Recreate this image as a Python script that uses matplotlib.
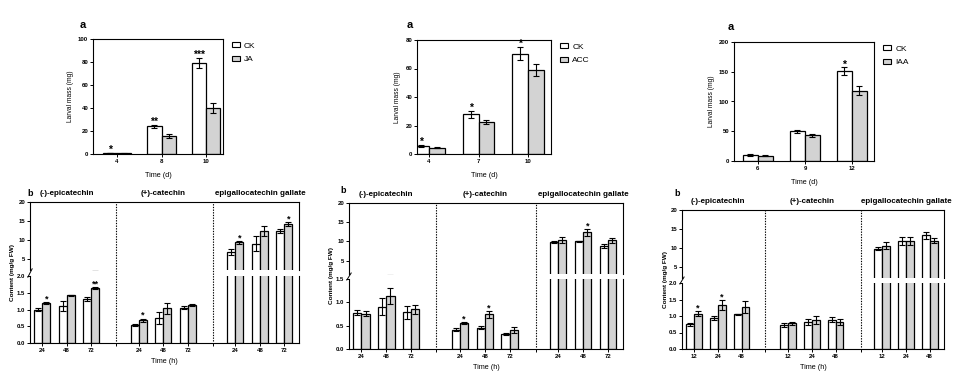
import matplotlib.pyplot as plt
import matplotlib.transforms as mtransforms
from matplotlib.patches import Patch

plt.rcParams['font.family'] = ['Liberation Sans', 'DejaVu Sans']
plt.rcParams['font.weight'] = 'bold'
plt.rcParams['axes.linewidth'] = 0.8

W, H = 960, 384

# ---- top row: larval mass (mg) ----
ja_days = ['4', '8', '10']
ja_ck = [0.8, 24, 79]
ja_ck_err = [0.3, 1.5, 4.5]
ja_trt = [0.5, 16, 40]
ja_trt_err = [0.2, 1.8, 4.5]
ja_stars = ['*', '**', '***']

acc_days = ['4', '7', '10']
acc_ck = [5.5, 28, 70.5]
acc_ck_err = [0.7, 2.5, 4.5]
acc_trt = [4.5, 22.5, 59]
acc_trt_err = [0.4, 1.5, 4.0]
acc_stars = ['*', '*', '*']

iaa_days = ['6', '9', '12']
iaa_ck = [10, 50, 151]
iaa_ck_err = [1.0, 2.5, 6.5]
iaa_trt = [9, 43, 118]
iaa_trt_err = [0.7, 3.0, 7.5]
iaa_stars = ['', '', '*']

# ---- bottom row: content (mg/g FW), 3 compounds x 3 times ----
compounds = ['(-)-epicatechin', '(+)-catechin', 'epigallocatechin gallate']

ja_hours = ['24', '48', '72']
ja_cont_ck = [1.0, 1.1, 1.3, 0.53, 0.75, 1.05, 6.7, 9.0, 12.3]
ja_cont_ck_err = [0.04, 0.15, 0.06, 0.03, 0.18, 0.04, 0.8, 2.0, 0.5]
ja_cont_trt = [1.2, 1.42, 1.64, 0.68, 1.03, 1.12, 9.3, 12.3, 14.1]
ja_cont_trt_err = [0.03, 0.02, 0.03, 0.05, 0.15, 0.03, 0.35, 1.3, 0.5]
ja_cont_stars = ['*', '', '**', '*', '', '', '*', '', '*']

acc_hours = ['24', '48', '72']
acc_cont_ck = [0.78, 0.91, 0.79, 0.41, 0.46, 0.32, 9.9, 10.0, 8.8]
acc_cont_ck_err = [0.05, 0.18, 0.14, 0.03, 0.04, 0.02, 0.2, 0.2, 0.6]
acc_cont_trt = [0.76, 1.14, 0.85, 0.55, 0.74, 0.41, 10.4, 12.4, 10.3]
acc_cont_trt_err = [0.05, 0.17, 0.09, 0.02, 0.08, 0.07, 0.8, 0.9, 0.7]
acc_cont_stars = ['', '', '', '*', '*', '', '', '*', '']

iaa_hours = ['12', '24', '48']
iaa_cont_ck = [0.75, 0.95, 1.05, 0.73, 0.82, 0.89, 9.8, 11.8, 13.3]
iaa_cont_ck_err = [0.05, 0.06, 0.02, 0.06, 0.08, 0.08, 0.5, 1.0, 0.9]
iaa_cont_trt = [1.07, 1.33, 1.27, 0.78, 0.88, 0.82, 10.5, 11.8, 11.9]
iaa_cont_trt_err = [0.07, 0.16, 0.17, 0.04, 0.12, 0.09, 0.9, 1.0, 0.6]
iaa_cont_stars = ['*', '*', '', '', '', '', '', '', '']

GRAY = '#d3d3d3'


def rect(l, t, r, b):
    return [l / W, 1 - b / H, (r - l) / W, (b - t) / H]


def tick_style(ax):
    ax.tick_params(axis='both', which='both', direction='out', length=2,
                   width=0.7, labelsize=4.3, pad=1.5)


fig = plt.figure(figsize=(9.6, 3.84), dpi=100)


def mass_panel(r, days, ck, ck_err, trt, trt_err, stars, label, ymax, ystep, xlim, lab_xy):
    ax = fig.add_axes(rect(*r))
    x = list(range(len(days)))
    w = 0.32
    xc = [i - w / 2 for i in x]
    xt = [i + w / 2 for i in x]
    ax.bar(xc, ck, w, color='white', edgecolor='k', lw=0.9)
    ax.bar(xt, trt, w, color=GRAY, edgecolor='k', lw=0.9)
    ax.errorbar(xc, ck, yerr=ck_err, fmt='none', ecolor='k', elinewidth=0.8, capsize=2.5, capthick=0.8)
    ax.errorbar(xt, trt, yerr=trt_err, fmt='none', ecolor='k', elinewidth=0.8, capsize=2.5, capthick=0.8)
    for xi, v, e, s in zip(xc, ck, ck_err, stars):
        if s:
            ax.annotate(s, (xi, v + e), xytext=(0, -1.5), textcoords='offset points',
                        ha='center', va='bottom', fontsize=7.5)
    ax.set_xlim(*xlim)
    ax.set_ylim(0, ymax)
    ax.set_yticks(range(0, ymax + 1, ystep))
    ax.set_xticks(x)
    ax.set_xticklabels(days)
    tick_style(ax)
    ax.set_xlabel('Time (d)', fontsize=5.2, labelpad=6)
    ax.set_ylabel('Larval mass (mg)', fontsize=4.8, labelpad=3)
    ax.legend(handles=[Patch(facecolor='white', edgecolor='k', lw=0.8),
                       Patch(facecolor=GRAY, edgecolor='k', lw=0.8)],
              labels=['CK', label], loc='upper left', bbox_to_anchor=(1.04, 1.0),
              frameon=False, handlelength=1.0, handleheight=0.55, handletextpad=0.5,
              labelspacing=0.7, borderaxespad=0.0, prop={'size': 6, 'weight': 'normal'})
    fig.text(lab_xy[0] / W, 1 - lab_xy[1] / H, 'a', fontsize=8, ha='left', va='center')


mass_panel((93, 39, 223, 154), ja_days, ja_ck, ja_ck_err, ja_trt, ja_trt_err, ja_stars,
           'JA', 100, 20, (-0.54, 2.38), (80, 25))
mass_panel((417, 40, 551, 154), acc_days, acc_ck, acc_ck_err, acc_trt, acc_trt_err, acc_stars,
           'ACC', 80, 20, (-0.24, 2.46), (407, 25))
mass_panel((734, 42, 874, 161), iaa_days, iaa_ck, iaa_ck_err, iaa_trt, iaa_trt_err, iaa_stars,
           'IAA', 200, 50, (-0.51, 2.47), (728, 27))


def content_panel(up, lo, hours, ck, ck_err, trt, trt_err, stars, brk, lo_ticks, lab_xy, ylab_x):
    ax_up = fig.add_axes(rect(*up))
    ax_lo = fig.add_axes(rect(*lo))
    xpos = [g * 3.95 + i + 0.5 for g in range(3) for i in range(3)]
    dividers = [3.5, 7.5]
    w = 0.33
    xc = [p - w / 2 for p in xpos]
    xt = [p + w / 2 for p in xpos]
    for ax in (ax_up, ax_lo):
        ax.bar(xc, ck, w, color='white', edgecolor='k', lw=0.9)
        ax.bar(xt, trt, w, color=GRAY, edgecolor='k', lw=0.9)
        ax.errorbar(xc, ck, yerr=ck_err, fmt='none', ecolor='k', elinewidth=0.8, capsize=2.2, capthick=0.8)
        ax.errorbar(xt, trt, yerr=trt_err, fmt='none', ecolor='k', elinewidth=0.8, capsize=2.2, capthick=0.8)
        ax.set_xlim(0, 11)
        tick_style(ax)
    ax_up.set_ylim(brk, 20)
    ax_lo.set_ylim(0, lo_ticks[-1])
    ax_up.set_yticks([5, 10, 15, 20])
    ax_lo.set_yticks(lo_ticks)
    ax_lo.set_yticklabels(['%.1f' % t for t in lo_ticks])
    ax_up.spines['bottom'].set_visible(False)
    ax_up.set_xticks([])
    ax_lo.spines['top'].set_visible(False)
    ax_lo.set_xticks(xpos)
    ax_lo.set_xticklabels(hours * 3)
    ax_lo.set_xticks(dividers, minor=True)
    ax_lo.set_xlabel('Time (h)', fontsize=5.2, labelpad=4)
    # dotted separators running through both segments
    lo_h = lo[3] - lo[1]
    tot = (lo[3] - up[1]) / lo_h
    gap = (lo[1] - up[3]) / lo_h
    trans = mtransforms.blended_transform_factory(ax_lo.transData, ax_lo.transAxes)
    for d in dividers:
        ax_lo.plot([d, d], [0.03, tot], transform=trans, ls=(0, (1.2, 1.2)), color='k',
                   lw=0.8, clip_on=False)
    # break mark on left axis
    ax_lo.plot([-0.008, 0.008], [1.0 - 0.2 * gap, 1.0 + 1.2 * gap], transform=ax_lo.transAxes,
               color='k', lw=0.7, clip_on=False)
    for xi, v, e, s in zip(xt, trt, trt_err, stars):
        if s:
            ax = ax_up if v > brk else ax_lo
            ax.annotate(s, (xi, v + e), xytext=(0, -1.0), textcoords='offset points',
                        ha='center', va='bottom', fontsize=6.5)
    for g, name in enumerate(compounds):
        ax_up.annotate(name, (xpos[g * 3 + 1], 20), xytext=(0, 3.5), textcoords='offset points',
                       ha='center', va='bottom', fontsize=5.8)
    fig.text(lab_xy[0] / W, 1 - lab_xy[1] / H, 'b', fontsize=6.5, ha='left', va='center')
    fig.text(ylab_x / W, 1 - (up[1] + lo[3]) / 2 / H, 'Content (mg/g FW)', rotation=90,
             fontsize=4.6, ha='center', va='center')


content_panel((30, 202, 299, 270), (30, 276, 299, 343), ja_hours, ja_cont_ck, ja_cont_ck_err,
              ja_cont_trt, ja_cont_trt_err, ja_cont_stars, 2.0, [0, 0.5, 1.0, 1.5, 2.0],
              (27, 193), 13)
content_panel((349, 203, 623, 274), (349, 279, 623, 349), acc_hours, acc_cont_ck, acc_cont_ck_err,
              acc_cont_trt, acc_cont_trt_err, acc_cont_stars, 1.5, [0, 0.5, 1.0, 1.5],
              (340, 191), 331)
content_panel((682, 210, 944, 278), (682, 283, 944, 349), iaa_hours, iaa_cont_ck, iaa_cont_ck_err,
              iaa_cont_trt, iaa_cont_trt_err, iaa_cont_stars, 2.0, [0, 0.5, 1.0, 1.5, 2.0],
              (674, 194), 665)

fig.savefig('out.png', dpi=100, facecolor='white')
